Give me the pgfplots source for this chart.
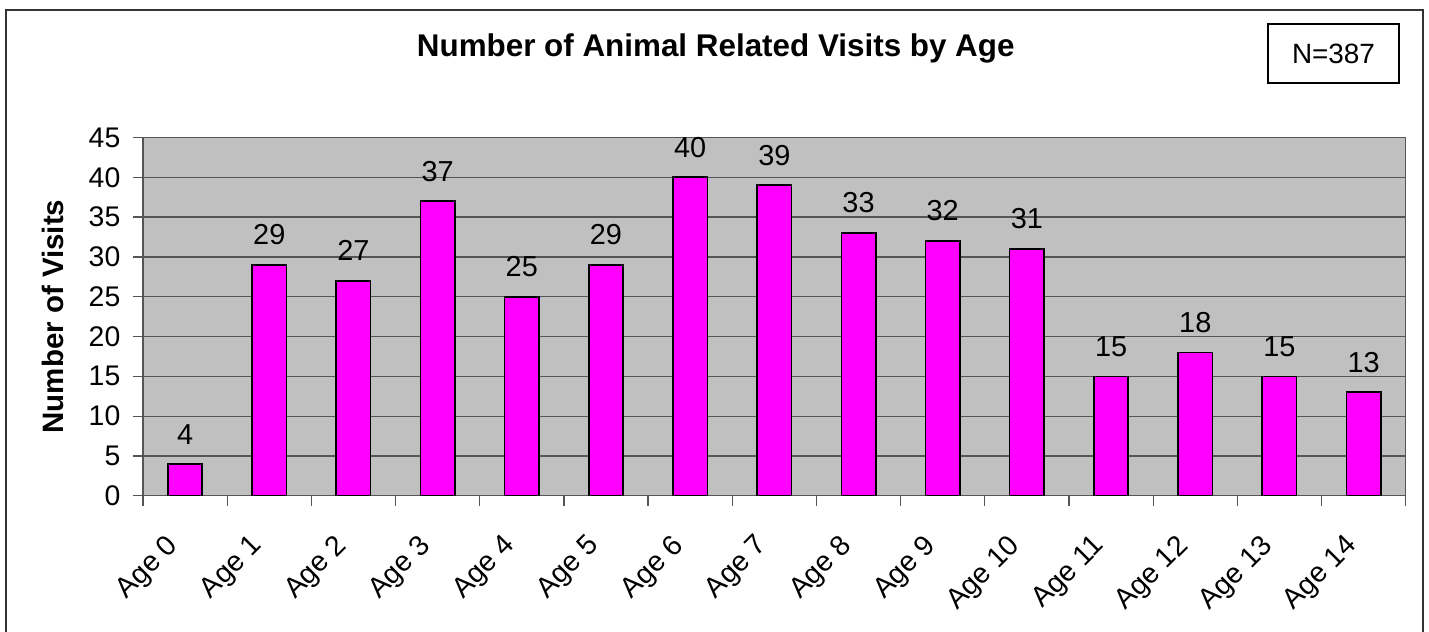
\documentclass[border=0pt]{standalone}
\usepackage{pgfplots}
\pgfplotsset{compat=1.18}
\usepackage{fontspec}
\setmainfont{Liberation Sans}

\definecolor{plotbg}{HTML}{C0C0C0}
\definecolor{barfill}{HTML}{FF00FF}
\definecolor{linegray}{HTML}{555555}

\begin{document}
\begin{tikzpicture}
\path[use as bounding box] (-143bp,-136.3bp) rectangle (1286bp,495.7bp);
\begin{axis}[
    at={(0,0)}, anchor=south west,
    scale only axis,
    width=1262.7bp, height=358.2bp,
    ybar, bar width=34.4bp,
    xmin=-0.5, xmax=14.5,
    ymin=0, ymax=45,
    ytick={0,5,...,45},
    xtick={0,...,14},
    xticklabels={Age 0,Age 1,Age 2,Age 3,Age 4,Age 5,Age 6,Age 7,Age 8,Age 9,Age 10,Age 11,Age 12,Age 13,Age 14},
    minor xtick={-0.5,0.5,...,14.5},
    every major x tick/.append style={draw=none},
    tick pos=left,
    tick align=outside,
    major tick length=10bp,
    minor tick length=10bp,
    tick style={linegray, line width=1.2bp},
    axis line style={linegray, line width=1.2bp},
    axis background/.style={fill=plotbg},
    ymajorgrids,
    grid style={linegray, line width=1.2bp},
    /pgf/number format/assume math mode=true,
    yticklabel style={anchor=east, inner sep=0pt, xshift=-12.5bp,
        font=\fontsize{28.5}{33}\selectfont},
    xticklabel style={xshift=-20bp, yshift=-27bp, rotate=45,
        anchor=north east, inner sep=0pt,
        font=\fontsize{28.5}{33}\selectfont},
    title={Number of Animal Related Visits by Age},
    title style={at={(axis description cs:0.4536,1.2088)}, anchor=base,
        font=\bfseries\fontsize{31.5}{36}\selectfont},
    ylabel={Number of Visits},
    ylabel style={at={(axis description cs:-0.0717,0.5)}, anchor=center,
        font=\bfseries\fontsize{29.6}{34}\selectfont},
    nodes near coords,
    every node near coord/.append style={anchor=south, inner sep=0pt,
        yshift=19bp, text=black, font=\fontsize{29}{33}\selectfont},
]
\addplot[fill=barfill, draw=black, line width=1.6bp]
coordinates {
    (0,4) (1,29) (2,27) (3,37) (4,25) (5,29) (6,40) (7,39)
    (8,33) (9,32) (10,31) (11,15) (12,18) (13,15) (14,13)
};
\end{axis}
\node[draw=black, line width=1.5bp, minimum width=131bp, minimum height=59bp,
    font=\fontsize{28}{32}\selectfont] at (1190.5bp,442.2bp) {N=387};
\draw[black!80, line width=1.5bp] (-137bp,-140bp) rectangle (1280bp,485.7bp);
\end{tikzpicture}
\end{document}
